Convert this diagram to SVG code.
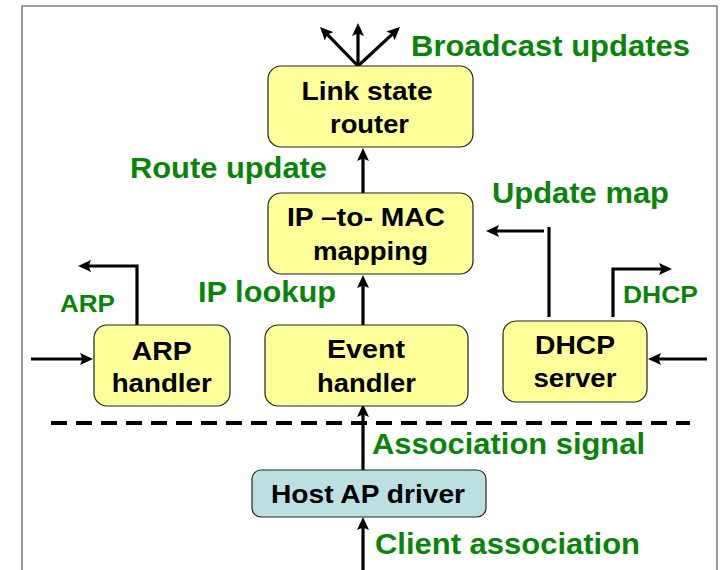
<svg xmlns="http://www.w3.org/2000/svg" width="721" height="570" viewBox="0 0 721 570">
<style>
.box{fill:#ffff99;stroke:#222;stroke-width:1.2}
.drv{fill:#bce0e2;stroke:#222;stroke-width:1.2}
.bt{font-family:"Liberation Sans",Arial,sans-serif;font-weight:bold;font-size:26px;fill:#000;text-anchor:middle}
.gl{font-family:"Liberation Sans",Arial,sans-serif;font-weight:bold;font-size:29px;fill:#088508}
.gs{font-family:"Liberation Sans",Arial,sans-serif;font-weight:bold;font-size:24px;fill:#088508}
.ln{fill:none;stroke:#000;stroke-width:3.2}
.ar{fill:none;stroke:#000;stroke-width:3.2;marker-end:url(#ah)}
</style>
<defs>
<marker id="ah" markerUnits="userSpaceOnUse" viewBox="0 0 13 12" refX="4" refY="6" markerWidth="13" markerHeight="12" orient="auto">
<path d="M0,0 L13,6 L0,12 L2.5,6 z" fill="#000"/>
</marker>
</defs>
<rect width="721" height="570" fill="#fff"/>
<path d="M22,571 V6 H717 V571" fill="none" stroke="#808080" stroke-width="1.6"/>
<g id="connectors">
<path class="ar" d="M358,68 V32"/>
<path class="ar" d="M358,66 L326.3,33.4"/>
<path class="ar" d="M358,66 L393.4,33.1"/>
<path class="ar" d="M363,193 V157"/>
<path class="ar" d="M363,325 V284"/>
<path class="ar" d="M137,325 V266 H87"/>
<path class="ar" d="M31,359 H84"/>
<path class="ln" d="M549,317 V227"/>
<path class="ar" d="M544,231 H495"/>
<path class="ar" d="M613,317 V269 H663"/>
<path class="ar" d="M707,359 H657"/>
<path class="ar" d="M363,470 V413"/>
<path class="ar" d="M363,570 V526"/>
<line x1="51" y1="423" x2="690" y2="423" stroke="#000" stroke-width="4" stroke-dasharray="16 9"/>
</g>
<g id="link-state-router">
<rect class="box" x="268" y="66" width="205" height="81" rx="13"/>
<text class="bt" x="367" y="100" textLength="131" lengthAdjust="spacingAndGlyphs">Link state</text>
<text class="bt" x="369.5" y="133" textLength="79" lengthAdjust="spacingAndGlyphs">router</text>
</g>
<g id="ip-to-mac">
<rect class="box" x="268" y="193" width="205" height="81" rx="13"/>
<text class="bt" x="366" y="226" textLength="158" lengthAdjust="spacingAndGlyphs">IP –to- MAC</text>
<text class="bt" x="370.5" y="260" textLength="115" lengthAdjust="spacingAndGlyphs">mapping</text>
</g>
<g id="arp-handler">
<rect class="box" x="94" y="325" width="136" height="81" rx="13"/>
<text class="bt" x="161.7" y="360" textLength="60" lengthAdjust="spacingAndGlyphs">ARP</text>
<text class="bt" x="161.7" y="392" textLength="100" lengthAdjust="spacingAndGlyphs">handler</text>
</g>
<g id="event-handler">
<rect class="box" x="265" y="325" width="203" height="81" rx="13"/>
<text class="bt" x="366" y="358" textLength="78" lengthAdjust="spacingAndGlyphs">Event</text>
<text class="bt" x="366.5" y="392" textLength="99" lengthAdjust="spacingAndGlyphs">handler</text>
</g>
<g id="dhcp-server">
<rect class="box" x="503" y="321" width="144" height="81" rx="13"/>
<text class="bt" x="575" y="354" textLength="80" lengthAdjust="spacingAndGlyphs">DHCP</text>
<text class="bt" x="575" y="387" textLength="83" lengthAdjust="spacingAndGlyphs">server</text>
</g>
<g id="host-ap-driver">
<rect class="drv" x="252" y="470" width="234" height="47" rx="9"/>
<text class="bt" x="368" y="503" textLength="194" lengthAdjust="spacingAndGlyphs">Host AP driver</text>
</g>
<g id="labels">
<text class="gl" x="411" y="56" textLength="279" lengthAdjust="spacingAndGlyphs">Broadcast updates</text>
<text class="gl" x="130" y="178" textLength="197" lengthAdjust="spacingAndGlyphs">Route update</text>
<text class="gl" x="492" y="203" textLength="177" lengthAdjust="spacingAndGlyphs">Update map</text>
<text class="gl" x="198" y="302" textLength="138" lengthAdjust="spacingAndGlyphs">IP lookup</text>
<text class="gs" x="60" y="312" textLength="55" lengthAdjust="spacingAndGlyphs">ARP</text>
<text class="gs" x="623" y="303" textLength="75" lengthAdjust="spacingAndGlyphs">DHCP</text>
<text class="gl" x="372" y="454" textLength="273" lengthAdjust="spacingAndGlyphs">Association signal</text>
<text class="gl" x="375" y="554" textLength="265" lengthAdjust="spacingAndGlyphs">Client association</text>
</g>
</svg>
